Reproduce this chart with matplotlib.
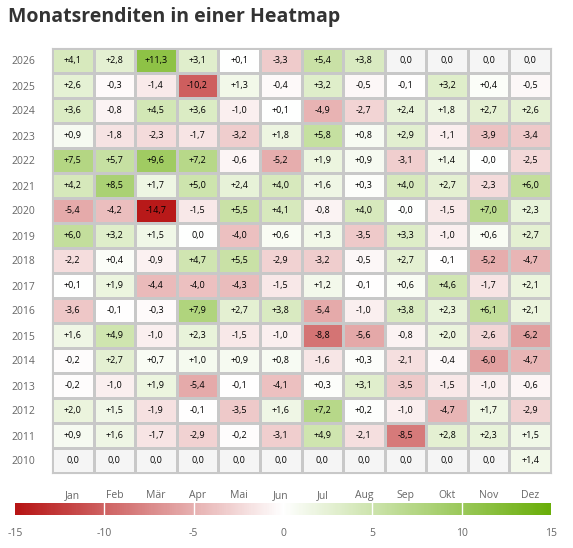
import numpy as np
import matplotlib.pyplot as plt
from matplotlib.colors import LinearSegmentedColormap

plt.rcParams['font.family'] = ['Open Sans', 'DejaVu Sans']

monate = ["Jan", "Feb", "Mär", "Apr", "Mai", "Jun", "Jul", "Aug", "Sep", "Okt", "Nov", "Dez"]
jahre = list(range(2026, 2009, -1))
nan = np.nan

r2026 = [4.1, 2.8, 11.3, 3.1, 0.1, -3.3, 5.4, 3.8, nan, nan, nan, nan]
r2025 = [2.6, -0.3, -1.4, -10.2, 1.3, -0.4, 3.2, -0.5, -0.1, 3.2, 0.4, -0.5]
r2024 = [3.6, -0.8, 4.5, 3.6, -1.0, 0.1, -4.9, -2.7, 2.4, 1.8, 2.7, 2.6]
r2023 = [0.9, -1.8, -2.3, -1.7, -3.2, 1.8, 5.8, 0.8, 2.9, -1.1, -3.9, -3.4]
r2022 = [7.5, 5.7, 9.6, 7.2, -0.6, -5.2, 1.9, 0.9, -3.1, 1.4, -0.0, -2.5]
r2021 = [4.2, 8.5, 1.7, 5.0, 2.4, 4.0, 1.6, 0.3, 4.0, 2.7, -2.3, 6.0]
r2020 = [-5.4, -4.2, -14.7, -1.5, 5.5, 4.1, -0.8, 4.0, -0.0, -1.5, 7.0, 2.3]
r2019 = [6.0, 3.2, 1.5, 0.0, -4.0, 0.6, 1.3, -3.5, 3.3, -1.0, 0.6, 2.7]
r2018 = [-2.2, 0.4, -0.9, 4.7, 5.5, -2.9, -3.2, -0.5, 2.7, -0.1, -5.2, -4.7]
r2017 = [0.1, 1.9, -4.4, -4.0, -4.3, -1.5, 1.2, -0.1, 0.6, 4.6, -1.7, 2.1]
r2016 = [-3.6, -0.1, -0.3, 7.9, 2.7, 3.8, -5.4, -1.0, 3.8, 2.3, 6.1, 2.1]
r2015 = [1.6, 4.9, -1.0, 2.3, -1.5, -1.0, -8.8, -5.6, -0.8, 2.0, -2.6, -6.2]
r2014 = [-0.2, 2.7, 0.7, 1.0, 0.9, 0.8, -1.6, 0.3, -2.1, -0.4, -6.0, -4.7]
r2013 = [-0.2, -1.0, 1.9, -5.4, -0.1, -4.1, 0.3, 3.1, -3.5, -1.5, -1.0, -0.6]
r2012 = [2.0, 1.5, -1.9, -0.1, -3.5, 1.6, 7.2, 0.2, -1.0, -4.7, 1.7, -2.9]
r2011 = [0.9, 1.6, -1.7, -2.9, -0.2, -3.1, 4.9, -2.1, -8.5, 2.8, 2.3, 1.5]
r2010 = [nan] * 11 + [1.4]

werte = np.array([r2026, r2025, r2024, r2023, r2022, r2021, r2020, r2019, r2018,
                  r2017, r2016, r2015, r2014, r2013, r2012, r2011, r2010])

cmap = LinearSegmentedColormap.from_list("rg", ["#b71515", "#ffffff", "#6aae0a"])
cmap.set_bad("#f5f5f5")

W, H = 573, 548
fig = plt.figure(figsize=(W / 100, H / 100), dpi=100)

def px_axes(x0, y0, x1, y1):
    return fig.add_axes([x0 / W, 1 - y1 / H, (x1 - x0) / W, (y1 - y0) / H])

fig.text(8 / W, 1 - 17 / H, "Monatsrenditen in einer Heatmap", fontsize=14,
         fontweight="bold", color="#333333", va="center", ha="left")

ax = px_axes(52, 48, 551, 473)
m = np.ma.masked_invalid(werte)
ax.pcolormesh(m, cmap=cmap, vmin=-15, vmax=15, edgecolors="#c8c8c8", linewidth=1)
ax.set_xlim(0, 12)
ax.set_ylim(len(jahre), 0)
for i in range(len(jahre)):
    for j in range(12):
        v = werte[i, j]
        if np.isnan(v):
            s = "0,0"
        elif v == 0 and not np.signbit(v):
            s = "0,0"
        else:
            s = f"{v:+.1f}".replace(".", ",")
        ax.text(j + 0.5, i + 0.5, s, ha="center", va="center", fontsize=6.5, color="black")
ax.set_yticks(np.arange(len(jahre)) + 0.5)
ax.set_yticklabels(jahre, fontsize=7.5, color="#666666")
ax.set_xticks(np.arange(12) + 0.5)
ax.set_xticklabels(monate, fontsize=7.5, color="#666666")
ax.tick_params(length=0, pad=12)
ax.tick_params(axis="y", pad=12)
for s in ax.spines.values():
    s.set_color("#c8c8c8")

cax = px_axes(15, 503, 551, 515)
grad = np.linspace(-15, 15, 300).reshape(1, -1)
cax.imshow(grad, cmap=cmap, vmin=-15, vmax=15, aspect="auto", extent=[-15, 15, 0, 1])
for t in [-10, -5, 0, 5, 10]:
    cax.axvline(t, color="white", lw=1)
cax.set_xlim(-15, 15)
cax.set_yticks([])
cax.set_xticks([-15, -10, -5, 0, 5, 10, 15])
cax.set_xticklabels(["-15", "-10", "-5", "0", "5", "10", "15"], fontsize=7.5, color="#666666")
cax.tick_params(length=0, pad=9)
for s in cax.spines.values():
    s.set_visible(False)

fig.savefig("out.png", dpi=100)
